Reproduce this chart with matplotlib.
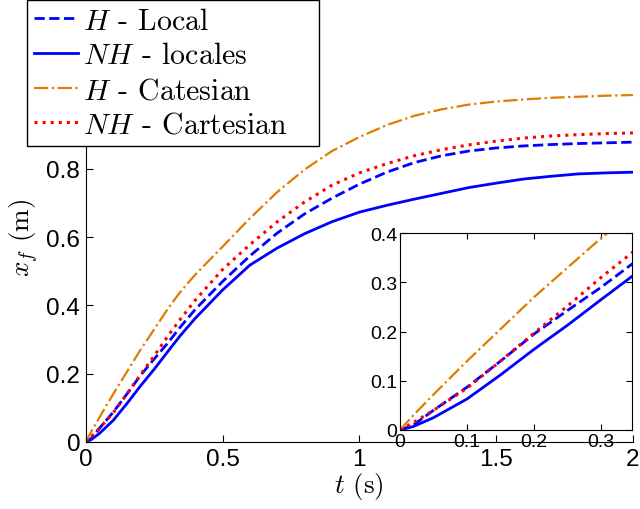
import numpy as np
import matplotlib
matplotlib.use("Agg")
from matplotlib import pyplot as plt
from matplotlib.ticker import FormatStrFormatter

plt.rcParams['font.family'] = 'Liberation Sans'
plt.rcParams['mathtext.fontset'] = 'cm'

# time samples (s) and final position x_f (m) for each controller
t = [0, 0.02, 0.05, 0.1, 0.15, 0.2, 0.25, 0.3, 0.346, 0.4, 0.5, 0.6, 0.7,
     0.8, 0.9, 1.0, 1.1, 1.2, 1.3, 1.4, 1.5, 1.6, 1.7, 1.8, 1.9, 2.0]
h_local = [0, 0.010, 0.040, 0.087, 0.140, 0.195, 0.243, 0.290, 0.337, 0.388,
           0.470, 0.545, 0.612, 0.668, 0.714, 0.755, 0.790, 0.818, 0.838,
           0.852, 0.861, 0.867, 0.871, 0.874, 0.876, 0.878]
nh_local = [0, 0.007, 0.025, 0.063, 0.112, 0.164, 0.213, 0.265, 0.312, 0.362,
            0.445, 0.518, 0.568, 0.610, 0.645, 0.673, 0.693, 0.711, 0.728,
            0.745, 0.758, 0.770, 0.778, 0.785, 0.788, 0.790]
h_cart = [0, 0.030, 0.072, 0.140, 0.205, 0.270, 0.330, 0.390, 0.440, 0.490,
          0.572, 0.655, 0.732, 0.798, 0.852, 0.893, 0.928, 0.955, 0.974,
          0.988, 0.997, 1.003, 1.008, 1.011, 1.014, 1.016]
nh_cart = [0, 0.015, 0.040, 0.085, 0.140, 0.197, 0.252, 0.310, 0.360, 0.415,
           0.505, 0.578, 0.645, 0.703, 0.752, 0.788, 0.815, 0.838, 0.856,
           0.870, 0.881, 0.890, 0.896, 0.900, 0.903, 0.905]

labels = [r"$H$ - Local", r"$NH$ - locales", r"$H$ - Catesian", r"$NH$ - Cartesian"]
orange = (0.87, 0.49, 0.0)

def draw(ax, lw=2.0):
    ax.plot(t, h_local, '--', color='b', lw=lw, label=labels[0])
    ax.plot(t, nh_local, '-', color='b', lw=lw, label=labels[1])
    ax.plot(t, h_cart, '-.', color=orange, lw=lw*0.8, label=labels[2])
    ax.plot(t, nh_cart, ':', color='r', lw=lw*1.1, label=labels[3])

fig = plt.figure(figsize=(6.4, 5.1), dpi=100)

# main axes, no box
ax = fig.add_axes([0.134, 0.1314, 0.855, 0.8035])
draw(ax)
ax.set_xlim(0, 2)
ax.set_ylim(0, 1.2)
ax.set_xticks([0, 0.5, 1, 1.5, 2])
ax.set_yticks([0, 0.2, 0.4, 0.6, 0.8, 1.0, 1.2])
ax.xaxis.set_major_formatter(FormatStrFormatter('%g'))
ax.yaxis.set_major_formatter(FormatStrFormatter('%g'))
ax.spines['top'].set_visible(False)
ax.spines['right'].set_visible(False)
ax.tick_params(direction='in', length=5, labelsize=17.5, pad=4)
ax.set_xlabel(r"$t$ (s)", family='cmr10', fontsize=19.5, labelpad=0)
ax.set_ylabel(r"$x_f$ (m)", family='cmr10', fontsize=19.5, labelpad=4)
leg = ax.legend(loc='upper left', bbox_to_anchor=(0.042, 0.714, 0.456, 0.284),
                mode='expand', bbox_transform=fig.transFigure,
                prop={'family': 'cmr10', 'size': 21.5},
                fancybox=False, edgecolor='k', framealpha=1, borderpad=0.25,
                labelspacing=0.24, handlelength=1.45, handletextpad=0.17,
                borderaxespad=0)
leg.get_frame().set_linewidth(1.0)

# inset zoom on the start of the motion
ins = fig.add_axes([0.625, 0.155, 0.3625, 0.386])
draw(ins)
ins.set_xlim(0, 0.346)
ins.set_ylim(0, 0.4)
ins.set_xticks([0, 0.1, 0.2, 0.3])
ins.set_yticks([0, 0.1, 0.2, 0.3, 0.4])
ins.xaxis.set_major_formatter(FormatStrFormatter('%g'))
ins.yaxis.set_major_formatter(FormatStrFormatter('%g'))
ins.tick_params(direction='in', length=4, labelsize=14, pad=2,
                top=True, right=True)

fig.savefig("out.png", dpi=100)
